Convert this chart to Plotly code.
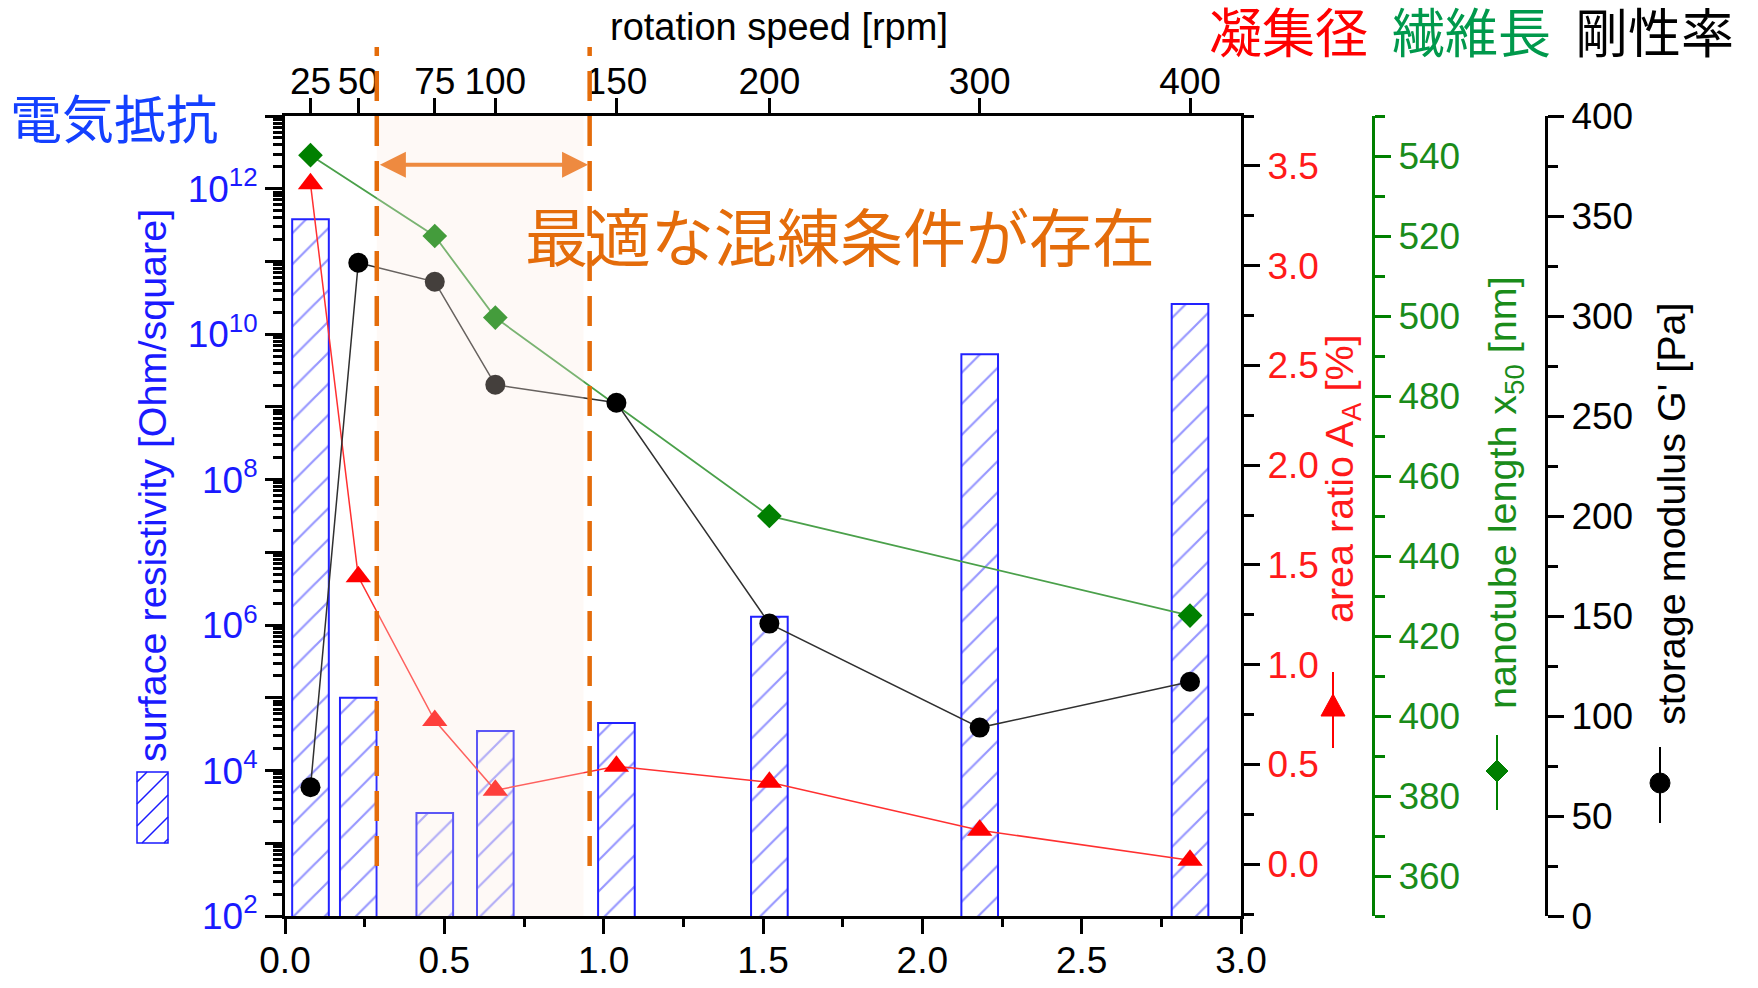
import plotly.graph_objects as go

# ---------------- data ----------------
rpm_labels = ["25", "50", "75", "100", "150", "200", "300", "400"]
x_pos = [0.08, 0.23, 0.47, 0.66, 1.04, 1.52, 2.18, 2.84]
resistivity = [3.8e11, 1.0e5, 2.6e3, 3.5e4, 4.5e4, 1.3e6, 5.3e9, 2.6e10]
area_ratio = [3.41, 1.44, 0.72, 0.37, 0.49, 0.41, 0.17, 0.02]
nano_rpm = ["25", "75", "100", "200", "400"]
nanotube_length = [540.2, 520.0, 499.6, 450.0, 425.1]
storage_modulus = [64.4, 326.6, 317.1, 265.6, 256.6, 146.2, 94.2, 117.1]
x_ticks = [0.0, 0.5, 1.0, 1.5, 2.0, 2.5, 3.0]
optimal_window = [0.288, 0.956]   # dashed lines (x units)
shade_right = 0.937

# ---------------- geometry ----------------
W, H = 1758, 988
MT, MB = 116, 72
PH = H - MT - MB
XL, XR = 285, 1241


def px(x):
    return x / W


def py(y):
    return (H - MB - y) / PH


FONT = "Liberation Sans, Arial, sans-serif"
CJK = "Noto Sans CJK JP, Noto Sans CJK SC, sans-serif"
BLUE = "#1a1aff"
RED = "#ff1a1a"
GREEN = "#008000"
ORANGE = "#E46C0A"

pos_of = dict(zip(rpm_labels, x_pos))
nano_x = [pos_of[r] for r in nano_rpm]

fig = go.Figure()

fig.add_trace(go.Bar(
    x=x_pos, y=resistivity, width=0.115, xaxis="x", yaxis="y",
    marker=dict(color="white", line=dict(color="#2222ff", width=2),
                pattern=dict(shape="/", fgcolor="#3030ff", bgcolor="white",
                             size=22, solidity=0.1)),
))
fig.add_trace(go.Scatter(
    x=x_pos, y=area_ratio, xaxis="x", yaxis="y2", mode="lines+markers",
    line=dict(color="#ff3030", width=1.5),
    marker=dict(symbol="triangle-up", size=22, color="#ff0000"),
))
fig.add_trace(go.Scatter(
    x=nano_x, y=nanotube_length, xaxis="x", yaxis="y3", mode="lines+markers",
    line=dict(color="#4aa04a", width=1.8),
    marker=dict(symbol="diamond", size=19, color="#008000"),
))
fig.add_trace(go.Scatter(
    x=x_pos, y=storage_modulus, xaxis="x", yaxis="y4", mode="lines+markers",
    line=dict(color="#303030", width=1.5),
    marker=dict(symbol="circle", size=20, color="#000000"),
))
# invisible trace for the top axis
fig.add_trace(go.Scatter(x=x_pos, y=resistivity, xaxis="x2", yaxis="y",
                         mode="markers", marker=dict(opacity=0), hoverinfo="skip"))

dom = [px(XL), px(XR)]
tickfont = dict(family=FONT, size=37, color="black")
common = dict(showline=True, linewidth=3, linecolor="black", ticks="outside",
              tickwidth=3, tickcolor="black", showgrid=False, zeroline=False)

# left log axis ticks
major_vals = [10 ** k for k in range(2, 14)]
major_text = [f"10<sup>{k}</sup>" if k % 2 == 0 else "" for k in range(2, 14)]
minor_vals = [m * 10 ** k for k in range(2, 13) for m in range(2, 10)]

fig.update_layout(
    width=W, height=H, margin=dict(l=0, r=0, t=MT, b=MB, autoexpand=False),
    plot_bgcolor="white", paper_bgcolor="white", showlegend=False,
    xaxis=dict(domain=dom, range=[0, 3], anchor="y", tickmode="array",
               tickvals=x_ticks, ticktext=[f"{v:.1f}" for v in x_ticks],
               ticklen=15, tickfont=tickfont, automargin=False,
               ticklabelstandoff=-5,
               minor=dict(dtick=0.25, tick0=0, ticks="outside", ticklen=8,
                          tickwidth=3, tickcolor="black"), **common),
    xaxis2=dict(domain=dom, range=[0, 3], overlaying="x", side="top", anchor="y",
                tickmode="array", tickvals=x_pos, ticktext=rpm_labels,
                ticklen=15, tickfont=tickfont, automargin=False,
                ticklabelstandoff=-11, **common),
    yaxis=dict(domain=[0, 1], type="log", range=[2, 13], anchor="x",
               tickmode="array", tickvals=major_vals, ticktext=major_text,
               ticklen=17, tickfont=dict(family=FONT, size=37, color=BLUE),
               automargin=False,
               minor=dict(tickmode="array", tickvals=minor_vals, ticks="outside",
                          ticklen=9, tickwidth=2.5, tickcolor="black"),
               **common),
    yaxis2=dict(range=[-0.26, 3.75], overlaying="y", side="right", anchor="x",
                tickmode="linear", tick0=0, dtick=0.5, tickformat=".1f",
                ticklen=16, tickfont=dict(family=FONT, size=37, color=RED),
                automargin=False,
                minor=dict(dtick=0.25, tick0=0, ticks="outside", ticklen=10,
                           tickwidth=3, tickcolor="black"), **common),
    yaxis3=dict(range=[350, 550], overlaying="y", side="right", anchor="free",
                position=px(1373), tickmode="linear", tick0=360, dtick=20,
                ticklen=16, tickfont=dict(family=FONT, size=37, color="#1a8c1a"),
                showline=True, linewidth=3, linecolor=GREEN, ticks="outside",
                tickwidth=3, tickcolor=GREEN, showgrid=False, zeroline=False,
                automargin=False,
                minor=dict(dtick=10, tick0=350, ticks="outside", ticklen=10,
                           tickwidth=3, tickcolor=GREEN)),
    yaxis4=dict(range=[0, 400], overlaying="y", side="right", anchor="free",
                position=px(1546), tickmode="linear", tick0=0, dtick=50,
                ticklen=16, tickfont=tickfont, automargin=False,
                minor=dict(dtick=25, tick0=0, ticks="outside", ticklen=10,
                           tickwidth=3, tickcolor="black"), **common),
)

shapes = []
# shaded optimal region (drawn above the data, translucent)
shapes.append(dict(type="rect", xref="x", yref="paper", x0=optimal_window[0],
                   x1=shade_right, y0=0, y1=1, layer="above", line=dict(width=0),
                   fillcolor="rgb(250,232,220)", opacity=0.27))
for xv in optimal_window:
    shapes.append(dict(type="line", xref="x", yref="paper", x0=xv, x1=xv,
                       y0=py(866), y1=py(47), layer="above",
                       line=dict(color=ORANGE, width=4.5, dash="30px,15px")))

# legend glyph: hatched box under left title
bx0, bx1, by0, by1 = 137, 168, 772, 843
shapes.append(dict(type="rect", xref="paper", yref="paper", x0=px(bx0), x1=px(bx1),
                   y0=py(by1), y1=py(by0), line=dict(color=BLUE, width=1.5)))
path = ""
c = bx0 + by0 + 10
while c < bx1 + by1:
    xa = max(bx0, c - by1)
    xb = min(bx1, c - by0)
    if xb > xa:
        path += f"M{px(xa)},{py(c - xa)} L{px(xb)},{py(c - xb)} "
    c += 22
shapes.append(dict(type="path", xref="paper", yref="paper", path=path,
                   line=dict(color=BLUE, width=1.5)))

# legend glyph: red triangle with bar
tx, ty = 1333, 706
shapes.append(dict(type="line", xref="paper", yref="paper", x0=px(tx), x1=px(tx),
                   y0=py(748), y1=py(672), line=dict(color="#ff0000", width=2)))
shapes.append(dict(type="path", xref="paper", yref="paper",
                   path=f"M{px(tx-12)},{py(ty+10)} L{px(tx+12)},{py(ty+10)} L{px(tx)},{py(ty-12)} Z",
                   fillcolor="#ff0000", line=dict(color="#ff0000", width=1)))
# green diamond with bar
gx, gy = 1497, 771
shapes.append(dict(type="line", xref="paper", yref="paper", x0=px(gx), x1=px(gx),
                   y0=py(810), y1=py(735), line=dict(color=GREEN, width=2)))
shapes.append(dict(type="path", xref="paper", yref="paper",
                   path=f"M{px(gx-11)},{py(gy)} L{px(gx)},{py(gy-11)} L{px(gx+11)},{py(gy)} L{px(gx)},{py(gy+11)} Z",
                   fillcolor=GREEN, line=dict(color=GREEN, width=1)))
# black circle with bar
cx, cy = 1660, 783
shapes.append(dict(type="line", xref="paper", yref="paper", x0=px(cx), x1=px(cx),
                   y0=py(823), y1=py(747), line=dict(color="black", width=2)))
shapes.append(dict(type="circle", xref="paper", yref="paper", x0=px(cx-10), x1=px(cx+10),
                   y0=py(cy+10), y1=py(cy-10), fillcolor="black", line=dict(color="black", width=1)))
fig.update_layout(shapes=shapes)

ann = []
# double arrow
ann.append(dict(x=optimal_window[1] - 0.005, y=375.6, xref="x", yref="y4",
                ax=optimal_window[0] + 0.005, ay=375.6, axref="x", ayref="y4",
                text="", showarrow=True, arrowhead=2, startarrowhead=2,
                arrowside="end+start", arrowsize=1.3, startarrowsize=1.3,
                arrowwidth=4, arrowcolor="#EE8A40"))


def txt(x, y, s, size, color, family=FONT, angle=0):
    ann.append(dict(x=px(x), y=py(y), xref="paper", yref="paper", text=s,
                    showarrow=False, xanchor="center", yanchor="middle",
                    textangle=angle, font=dict(family=family, size=size, color=color)))


txt(779, 27, "rotation speed [rpm]", 38, "black")
txt(114, 116, "電気抵抗", 52, "#1440ff", CJK)
txt(1288, 30, "凝集径", 53, "#ff0000", CJK)
txt(1471, 30, "繊維長", 53, "#00994c", CJK)
txt(1654, 30, "剛性率", 53, "black", CJK)
txt(840, 233, "最適な混練条件が存在", 63, ORANGE, CJK)
txt(152, 486, "surface resistivity [Ohm/square]", 39.5, BLUE, angle=-90)
txt(1342, 479, "area ratio A<sub>A</sub> [%]", 39.5, RED, angle=-90)
txt(1505, 493, "nanotube length x<sub>50</sub> [nm]", 39.5, "#1a8c1a", angle=-90)
txt(1671, 514, "storage modulus G' [Pa]", 39.5, "black", angle=-90)
fig.update_layout(annotations=ann)

fig.write_html("out.html")
